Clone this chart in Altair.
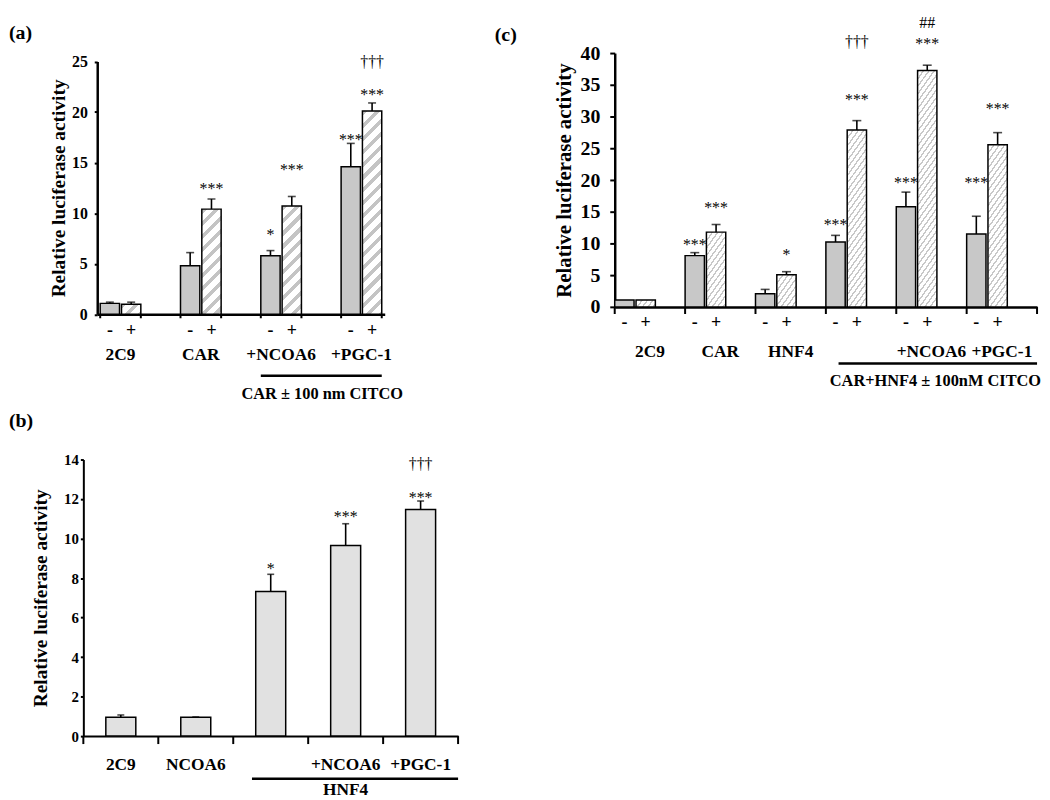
import altair as alt
import pandas as pd

SERIF = "Liberation Serif"
GRAY = "#c8c8c8"
LIGHT = "#e1e1e1"
YTITLE = "Relative luciferase activity"

# ---------------- panel (a) data ----------------
a_groups = ["2C9", "CAR", "+NCOA6", "+PGC-1"]
a_labels = ["2C9", "CAR", "+NCOA6", "+PGC-1"]
a_minus = [1.08, 4.8, 5.8, 14.6]
a_minus_sd = [0.12, 1.3, 0.5, 2.3]
a_plus = [1.0, 10.4, 10.7, 20.1]
a_plus_sd = [0.2, 1.0, 0.95, 0.8]
a_note_group = ["+NCOA6", "+PGC-1", "CAR", "+NCOA6", "+PGC-1", "+PGC-1"]
a_note_sign = ["-", "-", "+", "+", "+", "+"]
a_note_text = ["*", "***", "***", "***", "***", "†††"]
a_note_y = [8.2, 17.6, 12.7, 14.6, 22.0, 24.9]
a_caption = "CAR ± 100 nm CITCO"

# ---------------- panel (c) data ----------------
c_groups = ["2C9", "CAR", "HNF4", "CAR+HNF4", "+NCOA6", "+PGC-1"]
c_labels = ["2C9", "CAR", "HNF4", "", "+NCOA6", "+PGC-1"]
c_minus = [1.1, 8.1, 2.1, 10.25, 15.8, 11.5]
c_minus_sd = [0.0, 0.47, 0.68, 1.04, 2.3, 2.8]
c_plus = [1.1, 11.8, 5.1, 27.9, 37.25, 25.55]
c_plus_sd = [0.0, 1.2, 0.47, 1.46, 0.84, 1.92]
c_note_group = ["CAR", "CAR", "HNF4", "CAR+HNF4", "CAR+HNF4", "CAR+HNF4",
                "+NCOA6", "+NCOA6", "+NCOA6", "+PGC-1", "+PGC-1"]
c_note_sign = ["-", "+", "+", "-", "+", "+", "-", "+", "+", "-", "+"]
c_note_text = ["***", "***", "*", "***", "***", "†††", "***", "***", "##", "***", "***"]
c_note_y = [10.25, 16.2, 8.7, 13.4, 33.2, 41.8, 20.0, 42.0, 44.8, 20.0, 31.7]
c_caption = "CAR+HNF4 ± 100nM CITCO"

# ---------------- panel (b) data ----------------
b_groups = ["2C9", "NCOA6", "HNF4", "+NCOA6", "+PGC-1"]
b_labels = ["2C9", "NCOA6", "", "+NCOA6", "+PGC-1"]
b_values = [0.95, 0.95, 7.32, 9.65, 11.47]
b_sd = [0.12, 0.02, 0.87, 1.1, 0.43]
b_note_group = ["HNF4", "+NCOA6", "+PGC-1", "+PGC-1"]
b_note_text = ["*", "***", "***", "†††"]
b_note_y = [8.65, 11.24, 12.24, 13.75]
b_caption = "HNF4"


def hatch_gradient(w, h, period, frac, color):
    """Diagonal '/' stripes built from a linear gradient in bounding-box units."""
    r = h / w
    k = (w + h) / (w * (1.0 + r * r))
    p = period / (w + h)
    stops = []
    t = 0.0
    while t < 1.0 - 1e-9:
        b = min(t + p * frac, 1.0)
        c = min(t + p, 1.0)
        stops += [{"offset": round(t, 6), "color": color},
                  {"offset": round(b, 6), "color": color},
                  {"offset": round(b, 6), "color": "#ffffff"},
                  {"offset": round(c, 6), "color": "#ffffff"}]
        t += p
    return {"gradient": "linear", "x1": 0, "y1": 0,
            "x2": round(k, 6), "y2": round(k * r, 6), "stops": stops}


def yaxis(P):
    return alt.Axis(title=YTITLE, values=P["yticks"], grid=False, offset=-P["x0"],
                    labelFont=SERIF, labelFontWeight="bold", labelFontSize=P["lfs"],
                    labelColor="black", labelPadding=P["lpad"],
                    tickSize=P["tick"], tickWidth=2, tickColor="black",
                    domainColor="black", domainWidth=P["dw"],
                    titleFont=SERIF, titleFontWeight="bold", titleFontSize=P["tfs"],
                    titleColor="black", titlePadding=P["tpad"])


def xaxis(P):
    return alt.Axis(labels=False, ticks=False, title=None, grid=False,
                    domainColor="black", domainWidth=P["dw"])


def txt(size, weight="bold", **kw):
    return dict(font=SERIF, fontSize=size, fontWeight=weight, color="black", **kw)


def spacers(P):
    one = pd.DataFrame({"k": [0]})
    out = []
    for (x1, x2, y) in P["spacers"]:
        out.append(alt.Chart(one).mark_rule(color="white", strokeWidth=1).encode(
            x=alt.value(x1), x2=alt.value(x2), y=alt.value(y)))
    return out


def panel_label(P):
    one = pd.DataFrame({"k": [0]})
    return alt.Chart(one).mark_text(align="left", baseline="middle", **txt(20)).encode(
        x=alt.value(P["lab_x"]), y=alt.value(P["lab_y"]), text=alt.value(P["label"]))


def scales(P, groups, pi, po):
    xsc = alt.Scale(domain=groups, range=[P["x0"], P["W"]], paddingInner=pi, paddingOuter=po)
    ysc = alt.Scale(domain=[0, P["ymax"]], range=[P["H"], P["ytop"]], nice=False, zero=True)
    return xsc, ysc


def note_layers(notes, X, Y, extra, size):
    stars = notes[notes.text.str.contains(r"\*")]
    other = notes[~notes.text.str.contains(r"\*")]
    out = []
    out.append(alt.Chart(stars).mark_text(baseline="middle", dy=3.5, opacity=0.99,
                                          **txt(size, "normal")).encode(
        x=X(), y=Y("y"), text="text:N", **extra))
    out.append(alt.Chart(other).mark_text(baseline="middle", opacity=0.99,
                                          **txt(size, "normal")).encode(
        x=X(), y=Y("y"), text="text:N", **extra))
    return out


def paired_panel(P, groups, labels, minus, minus_sd, plus, plus_sd,
                 ng, ns, nt, ny, caption):
    W, H, ymax = P["W"], P["H"], P["ymax"]
    xsc, ysc = scales(P, groups, P["pi"], P["po"])
    osc = alt.Scale(domain=["-", "+"], paddingInner=P["opi"], paddingOuter=P["opo"])
    XA, YA = xaxis(P), yaxis(P)

    def X(field="group", bp=None):
        kw = {} if bp is None else {"bandPosition": bp}
        return alt.X(f"{field}:N", scale=xsc, axis=XA, **kw)

    XO = alt.XOffset("sign:N", scale=osc)

    def Y(field):
        return alt.Y(f"{field}:Q", scale=ysc, axis=YA)

    rows = []
    for i, g in enumerate(groups):
        rows.append(dict(group=g, sign="-", value=minus[i], sd=minus_sd[i], top=minus[i] + minus_sd[i]))
        rows.append(dict(group=g, sign="+", value=plus[i], sd=plus_sd[i], top=plus[i] + plus_sd[i]))
    df = pd.DataFrame(rows)

    layers = [alt.Chart(df[df.sign == "-"]).mark_bar(
        fill=GRAY, stroke="black", strokeWidth=P["bsw"]).encode(x=X(), xOffset=XO, y=Y("value"))]

    n = len(groups)
    span = W - P["x0"]
    bw = span / (n - P["pi"] + 2 * P["po"]) * (1 - P["pi"])
    wbar = bw / (2 - P["opi"] + 2 * P["opo"]) * (1 - P["opi"])
    ppu = (H - P["ytop"]) / ymax
    for rec in df[df.sign == "+"].to_dict("records"):
        h = max(rec["value"] * ppu, 1.0)
        grad = hatch_gradient(wbar, h, P["hper"], P["hfrac"], P["hcol"])
        layers.append(alt.Chart(pd.DataFrame([rec])).mark_bar(
            fill=grad, stroke="black", strokeWidth=P["bsw"]).encode(x=X(), xOffset=XO, y=Y("value")))

    err = df[df.sd > 0]
    layers.append(alt.Chart(err).mark_rule(color="black", strokeWidth=1.6).encode(
        x=X(), xOffset=XO, y=Y("value"), y2=alt.Y2("top")))
    layers.append(alt.Chart(err).mark_tick(color="black", size=P["cap"], thickness=1.6).encode(
        x=X(), xOffset=XO, y=Y("top")))

    notes = pd.DataFrame(dict(group=ng, sign=ns, text=nt, y=ny))
    layers += note_layers(notes, X, Y, {"xOffset": XO}, P["nfs"])

    # -/+ labels under bars
    layers.append(alt.Chart(df).mark_text(baseline="middle", **txt(P["sfs"])).encode(
        x=X(), xOffset=XO, y=alt.value(H + P["sy"]), text="sign:N"))
    # group labels
    gl = pd.DataFrame(dict(group=groups, label=labels))
    layers.append(alt.Chart(gl).mark_text(baseline="middle", **txt(P["gfs"])).encode(
        x=X(), y=alt.value(H + P["gy"]), text="label:N"))
    # axis ticks at group edges
    gdf = pd.DataFrame(dict(group=groups))
    layers.append(alt.Chart(gdf).mark_rule(color="black", strokeWidth=2).encode(
        x=X(bp=0), y=alt.value(H), y2=alt.value(H + P["tl"])))
    end_ticks = gdf if P["both_ticks"] else gdf.tail(1)
    layers.append(alt.Chart(end_ticks).mark_rule(color="black", strokeWidth=2).encode(
        x=X(bp=1), y=alt.value(H), y2=alt.value(H + P["tl"])))
    # bracket line and caption
    br = pd.DataFrame(dict(group=[P["br_from"]], group_end=[groups[-1]]))
    layers.append(alt.Chart(br).mark_rule(color="black", strokeWidth=2.5).encode(
        x=X(bp=P["br_bp"]), x2=alt.X2("group_end:N", bandPosition=1), y=alt.value(H + P["ly"])))
    cap = pd.DataFrame(dict(group=[P["cap_group"]], text=[caption]))
    layers.append(alt.Chart(cap).mark_text(baseline="middle", dx=P["cap_dx"], **txt(P["cfs"])).encode(
        x=X(bp=P["cap_bp"]), y=alt.value(H + P["cy"]), text="text:N"))

    layers.append(panel_label(P))
    layers += spacers(P)
    return alt.layer(*layers).properties(width=W, height=H)


def single_panel(P, groups, labels, values, sd, ng, nt, ny, caption):
    W, H, ymax = P["W"], P["H"], P["ymax"]
    xsc, ysc = scales(P, groups, 0, 0)
    XA, YA = xaxis(P), yaxis(P)

    def X(field="group", bp=None):
        kw = {} if bp is None else {"bandPosition": bp}
        return alt.X(f"{field}:N", scale=xsc, axis=XA, **kw)

    def Y(field):
        return alt.Y(f"{field}:Q", scale=ysc, axis=YA)

    df = pd.DataFrame(dict(group=groups, label=labels, value=values, sd=sd,
                           top=[v + s for v, s in zip(values, sd)]))
    layers = [alt.Chart(df).mark_bar(fill=LIGHT, stroke="black", strokeWidth=P["bsw"],
                                     width={"band": P["bandfrac"]}).encode(x=X(), y=Y("value"))]
    layers.append(alt.Chart(df).mark_rule(color="black", strokeWidth=1.6).encode(
        x=X(), y=Y("value"), y2=alt.Y2("top")))
    layers.append(alt.Chart(df).mark_tick(color="black", size=P["cap"], thickness=1.6).encode(
        x=X(), y=Y("top")))
    notes = pd.DataFrame(dict(group=ng, text=nt, y=ny))
    layers += note_layers(notes, X, Y, {}, P["nfs"])
    layers.append(alt.Chart(df).mark_text(baseline="middle", **txt(P["gfs"])).encode(
        x=X(), y=alt.value(H + P["gy"]), text="label:N"))
    layers.append(alt.Chart(df).mark_rule(color="black", strokeWidth=2).encode(
        x=X(bp=0), y=alt.value(H), y2=alt.value(H + P["tl"])))
    layers.append(alt.Chart(df.tail(1)).mark_rule(color="black", strokeWidth=2).encode(
        x=X(bp=1), y=alt.value(H), y2=alt.value(H + P["tl"])))
    br = pd.DataFrame(dict(group=[P["br_from"]], group_end=[groups[-1]]))
    layers.append(alt.Chart(br).mark_rule(color="black", strokeWidth=2.5).encode(
        x=X(bp=P["br_bp"]), x2=alt.X2("group_end:N", bandPosition=1), y=alt.value(H + P["ly"])))
    cap = pd.DataFrame(dict(group=[P["cap_group"]], text=[caption]))
    layers.append(alt.Chart(cap).mark_text(baseline="middle", **txt(P["cfs"])).encode(
        x=X(bp=P["cap_bp"]), y=alt.value(H + P["cy"]), text="text:N"))
    layers.append(panel_label(P))
    layers += spacers(P)
    return alt.layer(*layers).properties(width=W, height=H)


# Page layout (px): row-0 plot origins share y = 49.5, column-0 origins share x = 83.
PA = dict(W=304, x0=14, H=263.5, ytop=8.5, ymax=25, yticks=[0, 5, 10, 15, 20, 25],
          pi=0.494, po=0.037, opi=0.093, opo=0.0,
          lfs=16, lpad=7, tick=3, dw=2.5, tfs=19.5, tpad=3, bsw=1.5, cap=8,
          hper=13, hfrac=0.4, hcol="#c4c4c4",
          nfs=16, sfs=18, sy=17, gfs=17.5, gy=41, tl=4, both_ticks=True,
          br_from="+NCOA6", br_bp=0, ly=62, cap_group="+NCOA6", cap_bp=1, cap_dx=21,
          cfs=16.5, cy=80, label="(a)", lab_x=-75, lab_y=-20,
          spacers=[(-75, 357, -41.5), (-75, 357, 358.5)])

PC = dict(W=426, x0=0, H=256.2, ytop=0, ymax=40, yticks=list(range(0, 45, 5)),
          pi=0.0, po=0.0, opi=0.103, opo=0.22,
          lfs=20, lpad=10, tick=5, dw=2.5, tfs=21, tpad=6, bsw=1.5, cap=9,
          hper=7.5, hfrac=0.32, hcol="#c8c8c8",
          nfs=16, sfs=18, sy=16, gfs=17.5, gy=45, tl=7, both_ticks=False,
          br_from="CAR+HNF4", br_bp=0.18, ly=57, cap_group="+NCOA6", cap_bp=0.5, cap_dx=4,
          cfs=16.5, cy=74.3, label="(c)", lab_x=-121, lab_y=-18.5,
          spacers=[(-177, 0, -41.5)])

PB = dict(W=378, x0=0, H=279, ytop=0, ymax=14, yticks=list(range(0, 16, 2)),
          lfs=15, lpad=2, tick=3, dw=2, tfs=19.5, tpad=13, bsw=1.5, cap=7, bandfrac=0.4,
          nfs=16, gfs=17.5, gy=28.7, tl=8,
          br_from="HNF4", br_bp=0.25, ly=43, cap_group="+NCOA6", cap_bp=0.5,
          cfs=17.5, cy=54, label="(b)", lab_x=-75, lab_y=-39.3,
          spacers=[(-75, 0, -50.3)])

chart_a = paired_panel(PA, a_groups, a_labels, a_minus, a_minus_sd, a_plus, a_plus_sd,
                       a_note_group, a_note_sign, a_note_text, a_note_y, a_caption)
chart_c = paired_panel(PC, c_groups, c_labels, c_minus, c_minus_sd, c_plus, c_plus_sd,
                       c_note_group, c_note_sign, c_note_text, c_note_y, c_caption)
chart_b = single_panel(PB, b_groups, b_labels, b_values, b_sd,
                       b_note_group, b_note_text, b_note_y, b_caption)

top = alt.hconcat(chart_a, chart_c, spacing=0)
chart = alt.vconcat(top, chart_b, spacing=0).properties(
    padding=0, background="white"
).configure_view(stroke=None)

chart.save("out.html", embed_options={"renderer": "svg", "actions": False})
